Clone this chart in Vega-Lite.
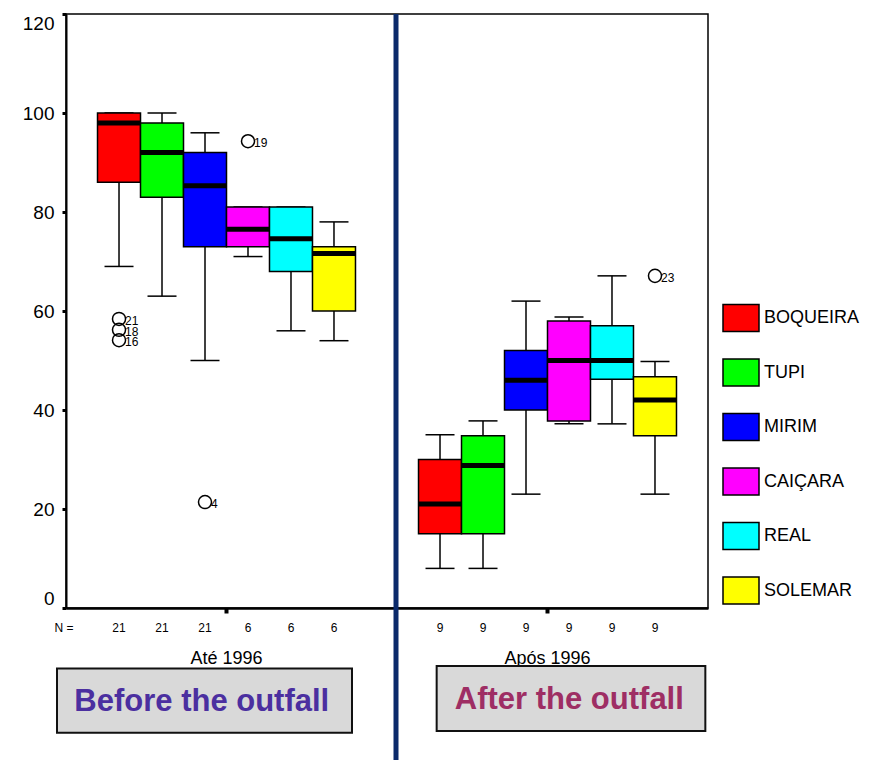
{
  "$schema": "https://vega.github.io/schema/vega-lite/v6.json",
  "width": 642,
  "height": 594,
  "autosize": {"type": "none"},
  "padding": {"left": 66, "top": 14, "right": 161, "bottom": 152},
  "background": "white",
  "config": {
    "font": "Liberation Sans",
    "view": {"stroke": "black", "strokeWidth": 1.5}
  },
  "datasets": {
    "boxes": [
      {"period": "Até 1996", "site": "BOQUEIRA", "low": 69, "q1": 86, "median": 98, "q3": 100, "high": 100, "n": "21"},
      {"period": "Até 1996", "site": "TUPI", "low": 63, "q1": 83, "median": 92, "q3": 98, "high": 100, "n": "21"},
      {"period": "Até 1996", "site": "MIRIM", "low": 50, "q1": 73, "median": 85.3, "q3": 92, "high": 96, "n": "21"},
      {"period": "Até 1996", "site": "CAIÇARA", "low": 71, "q1": 73, "median": 76.5, "q3": 81, "high": 81, "n": "6"},
      {"period": "Até 1996", "site": "REAL", "low": 56, "q1": 68, "median": 74.6, "q3": 81, "high": 81, "n": "6"},
      {"period": "Até 1996", "site": "SOLEMAR", "low": 54, "q1": 60, "median": 71.6, "q3": 73, "high": 78, "n": "6"},
      {"period": "Após 1996", "site": "BOQUEIRA", "low": 8, "q1": 15, "median": 21, "q3": 30, "high": 35, "n": "9"},
      {"period": "Após 1996", "site": "TUPI", "low": 8, "q1": 15, "median": 28.8, "q3": 34.8, "high": 37.8, "n": "9"},
      {"period": "Após 1996", "site": "MIRIM", "low": 23, "q1": 40, "median": 46, "q3": 52, "high": 62, "n": "9"},
      {"period": "Após 1996", "site": "CAIÇARA", "low": 37.2, "q1": 37.8, "median": 50, "q3": 58, "high": 58.8, "n": "9"},
      {"period": "Após 1996", "site": "REAL", "low": 37.2, "q1": 46.2, "median": 50, "q3": 57, "high": 67.1, "n": "9"},
      {"period": "Após 1996", "site": "SOLEMAR", "low": 23, "q1": 34.8, "median": 42, "q3": 46.7, "high": 49.8, "n": "9"}
    ],
    "outliers": [
      {"period": "Até 1996", "site": "BOQUEIRA", "value": 58.4, "label": "21"},
      {"period": "Até 1996", "site": "BOQUEIRA", "value": 56.2, "label": "18"},
      {"period": "Até 1996", "site": "BOQUEIRA", "value": 54.1, "label": "16"},
      {"period": "Até 1996", "site": "MIRIM", "value": 21.4, "label": "4"},
      {"period": "Até 1996", "site": "CAIÇARA", "value": 94.3, "label": "19"},
      {"period": "Após 1996", "site": "SOLEMAR", "value": 67.1, "label": "23"}
    ],
    "notes": [
      {"period": "Até 1996", "text": "Before the outfall"},
      {"period": "Após 1996", "text": "After the outfall"}
    ]
  },
  "layer": [
    {
      "data": {"name": "boxes"},
      "mark": {"type": "rule", "color": "black", "strokeWidth": 1.5, "opacity": 1},
      "encoding": {
        "x": {"field": "period", "type": "nominal", "sort": null,
          "scale": {"domain": ["Até 1996", "Após 1996"], "paddingInner": 0, "paddingOuter": 0},
          "axis": {"title": null, "labelAngle": 0, "labelFontSize": 18, "labelColor": "black", "labelPadding": 45, "labelBaseline": "middle", "tickSize": 5, "tickWidth": 4, "tickColor": "black", "domainColor": "black", "domainWidth": 2.5, "grid": false}},
        "xOffset": {"field": "site", "type": "nominal", "sort": null,
          "scale": {"domain": ["BOQUEIRA", "TUPI", "MIRIM", "CAIÇARA", "REAL", "SOLEMAR"], "paddingInner": 0, "paddingOuter": 0.733}},
        "y": {"field": "low", "type": "quantitative",
          "scale": {"domain": [0, 120], "nice": false},
          "axis": {"title": null, "values": [0, 20, 40, 60, 80, 100, 120], "grid": false, "domainColor": "black", "domainWidth": 2, "tickColor": "black", "tickSize": 4, "tickWidth": 3, "labelFontSize": 19, "labelColor": "black", "labelPadding": 8, "labelFlush": true}},
        "y2": {"field": "high"}
      }
    },
    {
      "data": {"name": "boxes"},
      "mark": {"type": "tick", "color": "black", "size": 29, "thickness": 1.5, "opacity": 1},
      "encoding": {
        "x": {"field": "period", "type": "nominal", "sort": null},
        "xOffset": {"field": "site", "type": "nominal", "sort": null},
        "y": {"field": "low", "type": "quantitative"}
      }
    },
    {
      "data": {"name": "boxes"},
      "mark": {"type": "tick", "color": "black", "size": 29, "thickness": 1.5, "opacity": 1},
      "encoding": {
        "x": {"field": "period", "type": "nominal", "sort": null},
        "xOffset": {"field": "site", "type": "nominal", "sort": null},
        "y": {"field": "high", "type": "quantitative"}
      }
    },
    {
      "data": {"name": "boxes"},
      "mark": {"type": "bar", "stroke": "black", "strokeWidth": 1.5, "opacity": 1},
      "encoding": {
        "x": {"field": "period", "type": "nominal", "sort": null},
        "xOffset": {"field": "site", "type": "nominal", "sort": null},
        "y": {"field": "q1", "type": "quantitative"},
        "y2": {"field": "q3"},
        "fill": {"field": "site", "type": "nominal", "sort": null,
          "scale": {"domain": ["BOQUEIRA", "TUPI", "MIRIM", "CAIÇARA", "REAL", "SOLEMAR"],
                    "range": ["#FF0000", "#00FF00", "#0000FF", "#FF00FF", "#00FFFF", "#FFFF00"]},
          "legend": {"title": null, "orient": "none", "legendX": 656, "legendY": 285, "padding": 0,
            "symbolType": "M-1,-0.75H1V0.75H-1Z", "symbolSize": 1296, "symbolStrokeColor": "black", "symbolStrokeWidth": 1.5,
            "symbolFillOpacity": 1, "symbolOpacity": 1, "labelFontSize": 18, "labelColor": "black", "labelOffset": 4,
            "rowPadding": 18.5, "labelLimit": 200}}
      }
    },
    {
      "data": {"name": "boxes"},
      "mark": {"type": "tick", "color": "black", "size": 43, "thickness": 5, "opacity": 1},
      "encoding": {
        "x": {"field": "period", "type": "nominal", "sort": null},
        "xOffset": {"field": "site", "type": "nominal", "sort": null},
        "y": {"field": "median", "type": "quantitative"}
      }
    },
    {
      "data": {"name": "outliers"},
      "mark": {"type": "point", "shape": "circle", "filled": false, "stroke": "black", "strokeWidth": 1.5, "size": 170, "opacity": 1},
      "encoding": {
        "x": {"field": "period", "type": "nominal", "sort": null},
        "xOffset": {"field": "site", "type": "nominal", "sort": null},
        "y": {"field": "value", "type": "quantitative"}
      }
    },
    {
      "data": {"name": "outliers"},
      "mark": {"type": "text", "align": "left", "baseline": "middle", "dx": 6, "dy": 2, "fontSize": 12, "color": "black"},
      "encoding": {
        "x": {"field": "period", "type": "nominal", "sort": null},
        "xOffset": {"field": "site", "type": "nominal", "sort": null},
        "y": {"field": "value", "type": "quantitative"},
        "text": {"field": "label"}
      }
    },
    {
      "data": {"name": "boxes"},
      "mark": {"type": "text", "align": "center", "baseline": "middle", "fontSize": 12, "color": "black"},
      "encoding": {
        "x": {"field": "period", "type": "nominal", "sort": null},
        "xOffset": {"field": "site", "type": "nominal", "sort": null},
        "y": {"datum": -3.95},
        "text": {"field": "n"}
      }
    },
    {
      "data": {"values": [{"period": "Até 1996", "t": "N ="}]},
      "mark": {"type": "text", "align": "center", "baseline": "middle", "fontSize": 12, "color": "black", "dx": -2},
      "encoding": {
        "x": {"field": "period", "type": "nominal", "bandPosition": 0},
        "y": {"datum": -3.95},
        "text": {"field": "t"}
      }
    },
    {
      "data": {"values": [{"period": "Após 1996"}]},
      "mark": {"type": "rule", "color": "#0B2A6B", "strokeWidth": 5, "xOffset": 9, "opacity": 1},
      "encoding": {
        "x": {"field": "period", "type": "nominal", "bandPosition": 0},
        "y": {"datum": 120},
        "y2": {"datum": -31}
      }
    },
    {
      "data": {"name": "notes"},
      "transform": [{"filter": "datum.period === 'Até 1996'"}],
      "mark": {"type": "bar", "width": {"band": 0.919}, "xOffset": -22, "fill": "#D9D9D9", "stroke": "#111111", "strokeWidth": 2, "opacity": 1},
      "encoding": {
        "x": {"field": "period", "type": "nominal"},
        "y": {"datum": -12.2},
        "y2": {"datum": -25.2}
      }
    },
    {
      "data": {"name": "notes"},
      "transform": [{"filter": "datum.period === 'Após 1996'"}],
      "mark": {"type": "bar", "width": {"band": 0.837}, "xOffset": 23.5, "fill": "#D9D9D9", "stroke": "#111111", "strokeWidth": 2, "opacity": 1},
      "encoding": {
        "x": {"field": "period", "type": "nominal"},
        "y": {"datum": -11.7},
        "y2": {"datum": -24.85}
      }
    },
    {
      "data": {"name": "notes"},
      "transform": [{"filter": "datum.period === 'Até 1996'"}],
      "mark": {"type": "text", "align": "center", "baseline": "middle", "fontSize": 31, "fontWeight": "bold", "color": "#4B2FA0"},
      "encoding": {
        "x": {"field": "period", "type": "nominal", "bandPosition": 0.423},
        "y": {"datum": -18.9},
        "text": {"field": "text"}
      }
    },
    {
      "data": {"name": "notes"},
      "transform": [{"filter": "datum.period === 'Após 1996'"}],
      "mark": {"type": "text", "align": "center", "baseline": "middle", "fontSize": 31, "fontWeight": "bold", "color": "#9E2E64"},
      "encoding": {
        "x": {"field": "period", "type": "nominal", "bandPosition": 0.568},
        "y": {"datum": -18.6},
        "text": {"field": "text"}
      }
    }
  ]
}
